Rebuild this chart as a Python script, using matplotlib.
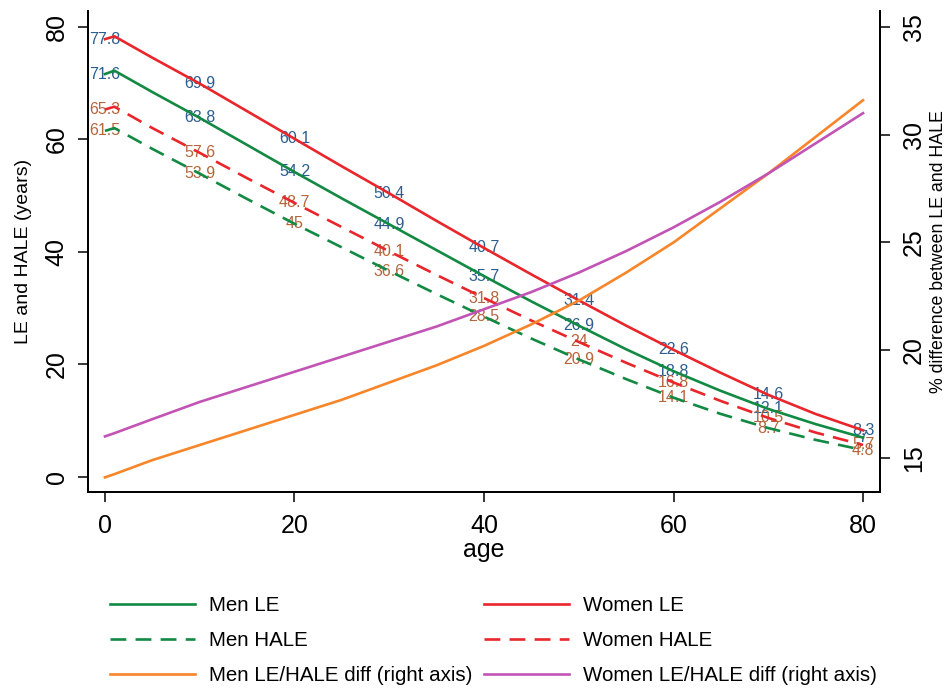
import matplotlib
matplotlib.use('Agg')
import matplotlib.pyplot as plt
from matplotlib.lines import Line2D

plt.rcParams['font.family'] = ['Liberation Sans', 'DejaVu Sans']

# --- data ---
ages = [0, 1, 5, 10, 15, 20, 25, 30, 35, 40, 45, 50, 55, 60, 65, 70, 75, 80]

men_le = [71.6, 72.2, 68.4, 63.8, 59.0, 54.2, 49.5, 44.9, 40.3, 35.7,
          31.2, 26.9, 22.7, 18.8, 15.3, 12.1, 9.4, 7.0]
women_le = [77.8, 78.3, 74.5, 69.9, 65.0, 60.1, 55.2, 50.4, 45.5, 40.7,
            36.0, 31.4, 26.9, 22.6, 18.5, 14.6, 11.2, 8.3]
men_hale = [61.5, 62.0, 58.3, 53.9, 49.4, 45.0, 40.8, 36.6, 32.5, 28.5,
            24.6, 20.9, 17.4, 14.1, 11.2, 8.7, 6.6, 4.8]
women_hale = [65.3, 65.8, 62.0, 57.6, 53.1, 48.7, 44.4, 40.1, 35.9, 31.8,
              27.8, 24.0, 20.3, 16.8, 13.5, 10.5, 7.9, 5.7]

# % difference between LE and HALE (right axis)
men_diff = [14.1, 14.25, 14.9, 15.6, 16.3, 17.0, 17.7, 18.5, 19.3, 20.2,
            21.2, 22.3, 23.6, 25.0, 26.6, 28.2, 29.9, 31.6]
women_diff = [16.0, 16.15, 16.8, 17.6, 18.3, 19.0, 19.7, 20.4, 21.1, 21.9,
              22.7, 23.6, 24.6, 25.7, 26.9, 28.2, 29.6, 31.0]

# --- colours ---
c_green = '#128a43'
c_red = '#e8262b'
c_orange = '#f7862a'
c_purple = '#c154b5'
c_lab_le = '#2c5d8f'
c_lab_hale = '#b5653b'

fig = plt.figure(figsize=(9.52, 6.91), dpi=100)
ax = fig.add_axes([88 / 952, 1 - 492 / 691, (880 - 88) / 952, (492 - 11) / 691])
ax2 = ax.twinx()

lw = 1.9
dash = (0, (6, 3.5))
ax.plot(ages, men_le, color=c_green, lw=lw, zorder=3)
ax.plot(ages, men_hale, color=c_green, lw=lw, linestyle=dash, zorder=3)
ax.plot(ages, women_le, color=c_red, lw=lw, zorder=3)
ax.plot(ages, women_hale, color=c_red, lw=lw, linestyle=dash, zorder=3)
ax2.plot(ages, men_diff, color=c_orange, lw=lw)
ax2.plot(ages, women_diff, color=c_purple, lw=lw)

# value labels every 10 years
for series, col in [(men_le, c_lab_le), (women_le, c_lab_le),
                    (men_hale, c_lab_hale), (women_hale, c_lab_hale)]:
    for a, v in zip(ages, series):
        if a % 10 == 0:
            ax.text(a, v, f'{v:g}', color=col, fontsize=11.5, ha='center',
                    va='center', zorder=2)

ax.set_xlim(-1.79, 81.79)
ax.set_ylim(-2.66, 82.8)
ax2.set_ylim(13.42, 35.74)

ax.set_xticks([0, 20, 40, 60, 80])
ax.set_yticks([0, 20, 40, 60, 80])
ax2.set_yticks([15, 20, 25, 30, 35])

for a in (ax, ax2):
    a.spines['top'].set_visible(False)
    for s in a.spines.values():
        s.set_linewidth(1.3)
    a.tick_params(length=7, width=1.1, labelsize=18, pad=9)

ax.tick_params(axis='y', labelrotation=90, pad=7)
ax2.tick_params(axis='y', labelrotation=90, pad=9)
for t in ax.get_yticklabels():
    t.set_va('center')
for t in ax2.get_yticklabels():
    t.set_va('center')

ax.set_xlabel('age', fontsize=18, labelpad=0)
ax.set_ylabel('LE and HALE (years)', fontsize=14, labelpad=9)
ax2.set_ylabel('% difference between LE and HALE', fontsize=12.8, labelpad=3)

handles = [
    Line2D([], [], color=c_green, lw=lw),
    Line2D([], [], color=c_green, lw=lw, linestyle=dash),
    Line2D([], [], color=c_orange, lw=lw),
    Line2D([], [], color=c_red, lw=lw),
    Line2D([], [], color=c_red, lw=lw, linestyle=dash),
    Line2D([], [], color=c_purple, lw=lw),
]
labels = ['Men LE', 'Men HALE', 'Men LE/HALE diff (right axis)',
          'Women LE', 'Women HALE', 'Women LE/HALE diff (right axis)']
fig.legend(handles, labels, loc='upper left', bbox_to_anchor=(100 / 952, 1 - 586 / 691),
           ncol=2, frameon=False, fontsize=14.8, handlelength=4.13,
           handletextpad=0.68, columnspacing=0.58, labelspacing=0.78, borderpad=0)

fig.savefig('out.png', dpi=100)
